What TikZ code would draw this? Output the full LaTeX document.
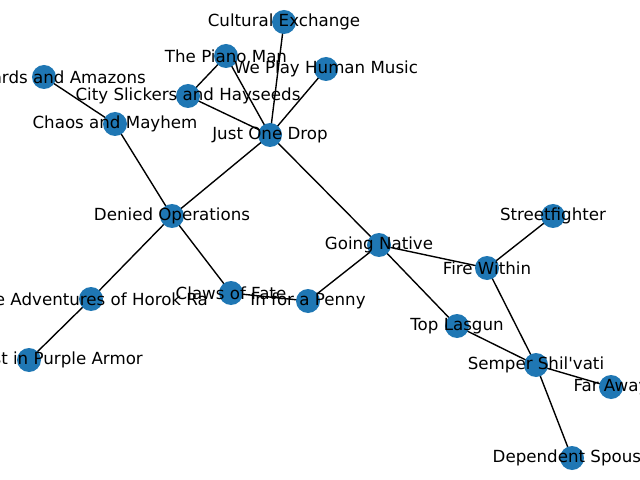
\documentclass[tikz,border=0pt]{standalone}
\usepackage{fontspec}
\setmainfont{DejaVu Sans}[Ligatures=TeXOff]
\definecolor{nodeblue}{HTML}{1F77B4}
\begin{document}
\begin{tikzpicture}[x=1bp,y=-1bp,
  vert/.style={circle,fill=nodeblue,draw=none,minimum size=24bp,inner sep=0pt},
  lab/.style={font=\fontsize{16.67bp}{20bp}\selectfont,inner sep=0pt,anchor=center},
  edge/.style={draw=black,line width=1.39bp}]
\useasboundingbox (0,0) rectangle (640,480);
\clip (0,0) rectangle (640,480);
\foreach \n/\x/\y in {ce/284/22, pm/226/56, wp/326/69, wa/44/77, cs/188/96, cm/115/124, jd/270/135,
  do/172/216, hr/91/299, lp/29/360, cf/231/293, ip/308/301, gn/379/245, sf/553/216, fw/487/268,
  tl/457/326, ss/536/365, fa/611/387, ds/572/458}
  \coordinate (\n) at (\x,\y);
\foreach \a/\b in {ce/jd, pm/jd, pm/cs, wp/jd, cs/jd, wa/cm, cm/do, jd/do, jd/gn, do/hr, do/cf,
  hr/lp, cf/ip, ip/gn, gn/fw, gn/tl, sf/fw, fw/ss, tl/ss, ss/fa, ss/ds}
  \draw[edge] (\a) -- (\b);
\foreach \n in {ce,pm,wp,wa,cs,cm,jd,do,hr,lp,cf,ip,gn,sf,fw,tl,ss,fa,ds}
  \node[vert] (v\n) at (\n) {};
\node[lab] (tce) at (ce) {Cultural Exchange};
\node[lab] (tpm) at (pm) {The Piano Man};
\node[lab] (twp) at (wp) {We Play Human Music};
\node[lab,anchor=east] (twa) at ([xshift=102bp]wa) {Wizards and Amazons};
\node[lab] (tcs) at (cs) {City Slickers and Hayseeds};
\node[lab] (tcm) at (cm) {Chaos and Mayhem};
\node[lab] (tjd) at (jd) {Just One Drop};
\node[lab] (tdo) at (do) {Denied Operations};
\node[lab] (thr) at (hr) {The Adventures of Horok Ra};
\node[lab,anchor=east] (tlp) at ([xshift=114bp]lp) {Lost in Purple Armor};
\node[lab] (tcf) at (cf) {Claws of Fate};
\node[lab] (tip) at (ip) {In for a Penny};
\node[lab] (tgn) at (gn) {Going Native};
\node[lab] (tsf) at (sf) {Streetfighter};
\node[lab] (tfw) at (fw) {Fire Within};
\node[lab] (ttl) at (tl) {Top Lasgun};
\node[lab] (tss) at (ss) {Semper Shil'vati};
\node[lab] (tfa) at (fa) {Far Away};
\node[lab] (tds) at (ds) {Dependent Spouse};
\end{tikzpicture}
\end{document}
